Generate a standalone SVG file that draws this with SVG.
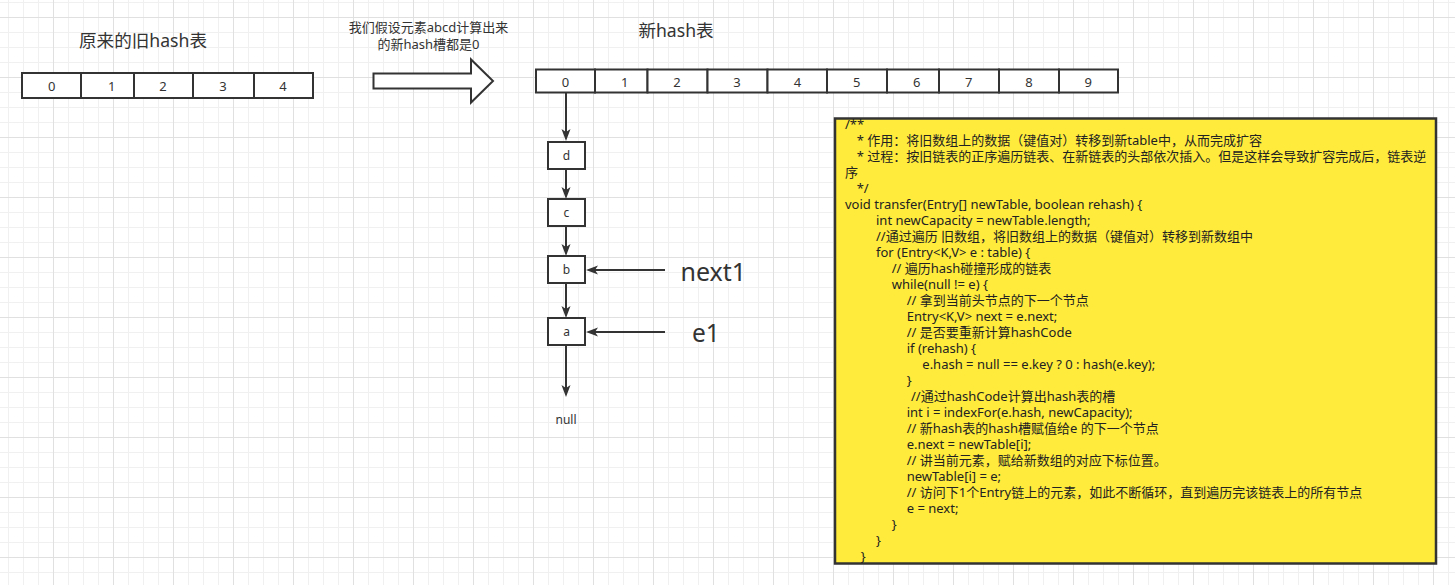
<svg xmlns="http://www.w3.org/2000/svg" width="1455" height="585" viewBox="0 0 1455 585">
<defs>
<pattern id="grid" patternUnits="userSpaceOnUse" x="53" y="17" width="60" height="60">
<path d="M15.5,0V60M30.5,0V60M45.5,0V60M0,15.5H60M0,30.5H60M0,45.5H60" stroke="#f0f0f0" stroke-width="1" fill="none"/>
<path d="M0.5,0V60M0,0.5H60" stroke="#e0e0e0" stroke-width="1" fill="none"/>
</pattern>
<marker id="arr" markerUnits="userSpaceOnUse" markerWidth="14" markerHeight="12" refX="8" refY="5" orient="auto">
<path d="M0,0.5 L12,5 L0,9.5 L3,5 Z" fill="#333"/>
</marker>
<style>
.t{font-family:"Noto Sans","Noto Sans CJK SC",sans-serif;fill:#333}
.c{text-anchor:middle}
.box{fill:#fff;stroke:#333;stroke-width:2}
.ln{stroke:#333;stroke-width:2;fill:none}
.code{font-family:"Noto Sans","Noto Sans CJK SC",sans-serif;font-size:13px;fill:#222}
</style>
</defs>
<rect width="1455" height="585" fill="#fff"/>
<rect width="1455" height="585" fill="url(#grid)"/>

<g id="title-old"><text class="t c" x="143" y="46.5" font-size="17.6">原来的旧hash表</text></g>
<g id="title-new"><text class="t c" x="676" y="37" font-size="17.6">新hash表</text></g>
<g id="note-arrow"><text class="t c" x="428.5" y="32" font-size="13">我们假设元素abcd计算出来</text><text class="t c" x="428.5" y="49" font-size="13">的新hash槽都是0</text></g>

<g id="old-table" font-size="13">
<g id="old-0"><rect class="box" x="22" y="73" width="59" height="25"/><text class="t c" x="51.7" y="90.5">0</text></g>
<g id="old-1"><rect class="box" x="81" y="73" width="53" height="25"/><text class="t c" x="111.7" y="90.5">1</text></g>
<g id="old-2"><rect class="box" x="134" y="73" width="59" height="25"/><text class="t c" x="163" y="90.5">2</text></g>
<g id="old-3"><rect class="box" x="193" y="73" width="61" height="25"/><text class="t c" x="223" y="90.5">3</text></g>
<g id="old-4"><rect class="box" x="254" y="73" width="59" height="25"/><text class="t c" x="283" y="90.5">4</text></g>
</g>

<g id="big-arrow"><path d="M373.5,73.5 H471 V59.5 L493,81 L471,102.5 V88.5 H373.5 Z" fill="#fff" stroke="#333" stroke-width="2"/></g>

<g id="new-table" font-size="13">
<g id="new-0"><rect class="box" x="536" y="69.5" width="59" height="23"/><text class="t c" x="565.4" y="86.5">0</text></g>
<g id="new-1"><rect class="box" x="595" y="69.5" width="52.5" height="23"/><text class="t c" x="624.6" y="86.5">1</text></g>
<g id="new-2"><rect class="box" x="647.5" y="69.5" width="60" height="23"/><text class="t c" x="677" y="86.5">2</text></g>
<g id="new-3"><rect class="box" x="707.5" y="69.5" width="60" height="23"/><text class="t c" x="737" y="86.5">3</text></g>
<g id="new-4"><rect class="box" x="767.5" y="69.5" width="59.5" height="23"/><text class="t c" x="797.4" y="86.5">4</text></g>
<g id="new-5"><rect class="box" x="827" y="69.5" width="60" height="23"/><text class="t c" x="856.6" y="86.5">5</text></g>
<g id="new-6"><rect class="box" x="887" y="69.5" width="52" height="23"/><text class="t c" x="916.6" y="86.5">6</text></g>
<g id="new-7"><rect class="box" x="939" y="69.5" width="60" height="23"/><text class="t c" x="968.7" y="86.5">7</text></g>
<g id="new-8"><rect class="box" x="999" y="69.5" width="60" height="23"/><text class="t c" x="1029" y="86.5">8</text></g>
<g id="new-9"><rect class="box" x="1059" y="69.5" width="59" height="23"/><text class="t c" x="1088.3" y="86.5">9</text></g>
</g>

<g id="node-d"><rect class="box" x="548" y="142" width="37" height="27"/><text class="t c" x="566.5" y="160" font-size="12">d</text></g>
<g id="node-c"><rect class="box" x="548" y="199" width="37" height="27"/><text class="t c" x="566.5" y="217" font-size="12">c</text></g>
<g id="node-b"><rect class="box" x="548" y="256" width="37" height="27"/><text class="t c" x="566.5" y="274" font-size="12">b</text></g>
<g id="node-a"><rect class="box" x="548" y="318" width="37" height="27"/><text class="t c" x="566.5" y="336" font-size="12">a</text></g>
<g id="node-null"><text class="t c" x="566" y="424" font-size="12">null</text></g>
<g id="label-next1"><text class="t" x="680.5" y="281" font-size="25">next1</text></g>
<g id="label-e1"><text class="t" x="692" y="342" font-size="24.5">e1</text></g>

<g id="connectors">
<line class="ln" x1="566" y1="93" x2="566" y2="137" marker-end="url(#arr)"/>
<line class="ln" x1="566" y1="169" x2="566" y2="195" marker-end="url(#arr)"/>
<line class="ln" x1="566" y1="226" x2="566" y2="252" marker-end="url(#arr)"/>
<line class="ln" x1="566" y1="283" x2="566" y2="314" marker-end="url(#arr)"/>
<line class="ln" x1="566" y1="345" x2="566" y2="393" marker-end="url(#arr)"/>
<line class="ln" x1="665" y1="270" x2="590" y2="270" marker-end="url(#arr)"/>
<line class="ln" x1="665" y1="332" x2="590" y2="332" marker-end="url(#arr)"/>
</g>

<g id="code-note">
<rect x="835" y="118.5" width="601" height="445" fill="#ffeb3b" stroke="#333" stroke-width="2.5"/>
<text class="code" x="845" y="129.3">/**</text>
<text class="code" x="856.7" y="145.3">* 作用：将旧数组上的数据（键值对）转移到新table中，从而完成扩容</text>
<text class="code" x="856.7" y="161.3">* 过程：按旧链表的正序遍历链表、在新链表的头部依次插入。但是这样会导致扩容完成后，链表逆</text>
<text class="code" x="845" y="177.3">序</text>
<text class="code" x="856.7" y="193.3">*/</text>
<text class="code" x="845" y="209.3">void transfer(Entry[] newTable, boolean rehash) {</text>
<text class="code" x="876" y="225.3">int newCapacity = newTable.length;</text>
<text class="code" x="876" y="241.3">//通过遍历 旧数组，将旧数组上的数据（键值对）转移到新数组中</text>
<text class="code" x="876" y="257.3">for (Entry&lt;K,V&gt; e : table) {</text>
<text class="code" x="891.7" y="273.3">// 遍历hash碰撞形成的链表</text>
<text class="code" x="891.7" y="289.3">while(null != e) {</text>
<text class="code" x="906.7" y="305.3">// 拿到当前头节点的下一个节点</text>
<text class="code" x="906.7" y="321.3">Entry&lt;K,V&gt; next = e.next;</text>
<text class="code" x="906.7" y="337.3">// 是否要重新计算hashCode</text>
<text class="code" x="906.7" y="353.3">if (rehash) {</text>
<text class="code" x="922.3" y="369.3">e.hash = null == e.key ? 0 : hash(e.key);</text>
<text class="code" x="906.7" y="385.3">}</text>
<text class="code" x="911" y="401.3">//通过hashCode计算出hash表的槽</text>
<text class="code" x="906.7" y="417.3">int i = indexFor(e.hash, newCapacity);</text>
<text class="code" x="906.7" y="433.3">// 新hash表的hash槽赋值给e 的下一个节点</text>
<text class="code" x="906.7" y="449.3">e.next = newTable[i];</text>
<text class="code" x="906.7" y="465.3">// 讲当前元素，赋给新数组的对应下标位置。</text>
<text class="code" x="906.7" y="481.3">newTable[i] = e;</text>
<text class="code" x="906.7" y="497.3">// 访问下1个Entry链上的元素，如此不断循环，直到遍历完该链表上的所有节点</text>
<text class="code" x="906.7" y="513.3">e = next;</text>
<text class="code" x="891.7" y="529.3">}</text>
<text class="code" x="876" y="545.3">}</text>
<text class="code" x="860.7" y="561.3">}</text>
</g>
</svg>
